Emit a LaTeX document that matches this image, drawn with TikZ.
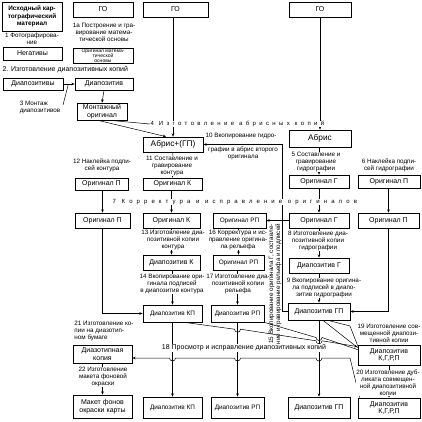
\documentclass[tikz,border=0pt]{standalone}
\usepackage{fontspec}
\setmainfont{Liberation Sans}
\newfontfamily\spacedA[LetterSpace=56]{Liberation Sans}
\newfontfamily\spacedB[LetterSpace=68]{Liberation Sans}
\usetikzlibrary{arrows.meta,calc}
\begin{document}
\begin{tikzpicture}[x=1pt,y=-1pt,
 box/.style={draw,line width=0.75pt,inner sep=0pt,align=center,font=\fontsize{7}{7.8}\selectfont},
 nbox/.style={box,font=\fontsize{6.4}{7}\selectfont},
 lab/.style={inner sep=0.4pt,align=center,font=\fontsize{6.3}{7}\selectfont},
 wlab/.style={lab,fill=white},
 con/.style={line width=0.5pt},
 arr/.style={con,-{Stealth[length=3.2pt,width=2.6pt]}},
]
\useasboundingbox (0,0) rectangle (422,422);
\newcommand\B[6]{\node[box,minimum width=#4pt,minimum height=#5pt] (#1) at (#2,#3) {#6};}
% ---------- boxes ----------
\node[box,minimum width=60pt,minimum height=29pt,font=\fontsize{6.4}{7.6}\selectfont\bfseries] (src) at (32,16.5) {Исходный кар-\\тографический\\материал};
\B{neg}{32.5}{53.5}{59}{13}{Негативы}
\B{dps}{33}{84}{60}{12}{Диапозитивы}
\B{goa}{103}{9.5}{60}{15}{ГО}
\node[box,minimum width=60pt,minimum height=15pt,font=\fontsize{5}{4.9}\selectfont] (omo) at (103,55.5) {Оригинал матема-\\тической\\основы};
\B{dp}{104}{84}{58}{12}{Диапозитив}
\B{mont}{102}{111.5}{50}{17}{Монтажный\\оригинал}
\B{gob}{175.5}{9.5}{65}{15}{ГО}
\B{goc}{320}{9.5}{62}{15}{ГО}
\node[box,minimum width=60pt,minimum height=15pt,font=\fontsize{8.3}{9}\selectfont] (agp) at (173,144.5) {Абрис+(ГП)};
\node[box,minimum width=62pt,minimum height=17pt,font=\fontsize{8.3}{9}\selectfont] (abr) at (320,138.5) {Абрис};
\B{opa}{101.5}{184}{53}{12}{Оригинал П}
\B{oka}{172.5}{184}{59}{12}{Оригинал К}
\B{oga}{319}{181.5}{60}{13}{Оригинал Г}
\B{opra}{389}{181.5}{62}{13}{Оригинал П}
\B{opb}{102.5}{220.5}{55}{15}{Оригинал П}
\B{okb}{171.5}{220.5}{57}{15}{Оригинал К}
\node[nbox,minimum width=53pt,minimum height=15pt] (orpa) at (239.5,220.5) {Оригинал РП};
\B{ogb}{319}{220.5}{60}{15}{Оригинал Г}
\B{oprb}{388.5}{220.5}{61}{15}{Оригинал П}
\B{dk}{171.5}{262.5}{57}{15}{Диапозитив К}
\node[nbox,minimum width=51pt,minimum height=15pt] (orpb) at (238.5,262.5) {Оригинал РП};
\B{dg}{319}{265.5}{60}{15}{Диапозитив Г}
\node[nbox,minimum width=59pt,minimum height=17pt] (dkp) at (172.5,313.5) {Диапозитив КП};
\node[nbox,minimum width=53pt,minimum height=17pt] (drp) at (237.5,313.5) {Диапозитив РП};
\B{dgp}{319}{311.5}{62}{17}{Диапозитив ГП}
\B{kga}{389}{355}{62}{20}{Диапозитив\\К,Г,Р,П}
\B{diaz}{102.5}{354}{59}{18}{Диазотипная\\копия}
\B{maket}{102.5}{406.5}{59}{23}{Макет фонов\\окраски карты}
\node[nbox,minimum width=59pt,minimum height=21pt] (dkpb) at (172.5,407.5) {Диапозитив КП};
\node[nbox,minimum width=53pt,minimum height=21pt] (drpb) at (237.5,407.5) {Диапозитив РП};
\B{dgpb}{319}{407.5}{62}{21}{Диапозитив ГП}
\B{kgb}{389}{408}{62}{20}{Диапозитив\\К,Г,Р,П}
% ---------- connectors ----------
\draw[arr] (dps.east) -- (dp.west);
\coordinate (m3) at (63,105);
\draw[con] (m3) -- ($(dps.east)!0.45!(dp.west)$);
\draw[arr] (dp.south) -- (mont.north);
\draw[arr] ([xshift=-4pt]mont.south) -- ([xshift=-7pt]agp.north);
\draw[arr] (gob.south -| agp.north) -- (agp.north);
\draw[arr] (goc.south) -- (abr.north);
\draw[arr] (dgp.west) -- ++(-5,0) |- (agp.east);
\draw[arr] (abr.south -| oga.north) -- (oga.north);
\draw[arr] (agp.south) -- (oka.north);
\draw[arr] (opa.south -| opb.north) -- (opb.north);
\draw[arr] (oka.south -| okb.north) -- (okb.north);
\draw[arr] (oga.south) -- (ogb.north);
\draw[arr] (opra.south -| oprb.north) -- (oprb.north);
\draw[arr] (ogb.west) -- (orpa.east);
\draw[arr] (okb.south) -- (dk.north);
\draw[arr] (orpa.south -| orpb.north) -- (orpb.north);
\draw[arr] (ogb.south) -- (dg.north);
\draw[arr] (dk.south -| dkp.north) -- (dkp.north);
\draw[arr] (orpb.south -| drp.north) -- (drp.north);
\draw[arr] (dg.south) -- (dgp.north);
\draw[arr] (opb.south) |- (dkp.west);
\draw[arr] (oprb.south) |- (dgp.east);
\draw[arr] (dkp.south) -- (dkpb.north);
\draw[arr] (drp.south) -- (drpb.north);
\draw[arr] (dgp.south) -- (dgpb.north);
\draw[arr] (kga.south) -- (kgb.north);
\draw[arr] (diaz.south) -- (maket.north);
% diagonals to the combined diapositive (step 19)
\draw[arr] ([xshift=12pt]dkp.south) -- (234.5,329.2) arc[start angle=180,end angle=360,radius=3pt]
  -- (316,340.8) arc[start angle=180,end angle=360,radius=3pt] -- ([yshift=-2pt]kga.north west);
\draw[con] (drp.south east) -- (316,337.5) arc[start angle=180,end angle=360,radius=3pt] -- ([yshift=-5pt]kga.north west);
\draw[con] ([xshift=4pt]dgp.south) -- ([yshift=-3pt]kga.north west);
\draw[con] ([xshift=9pt]dgp.south) -- (350,326) -- ([yshift=-1pt]kga.north west);
% step 21: duplicate -> diazo copy, with hops
\coordinate (h21) at (350,358);
\draw[arr] ([xshift=2pt]kgb.north west) -- (h21) -- (322,358) arc[start angle=0,end angle=-180,radius=3pt]
  -- (240.5,358) arc[start angle=0,end angle=-180,radius=3pt]
  -- (175.5,358) arc[start angle=0,end angle=-180,radius=3pt] -- (h21 -| diaz.east);
% ---------- labels ----------
\node[lab] (l1) at (32,39) {1 Фотографирова-\\ние};
\node[lab,anchor=west,font=\fontsize{7}{7.5}\selectfont] (l2) at (2,70) {2. Изготовление диапозитивных копий};
\node[lab,align=left] (l3) at (40,107) {3 Монтаж\\ диапозитивов};
\node[lab] (l1a) at (104,32) {1а Построение и гра-\\вирование матема-\\тической основы};
\node[wlab,font=\spacedA\fontsize{6}{6.6}\selectfont,anchor=west] (l4) at (150,124) {4 Изготовление абрисных копий};
\draw[con] ([xshift=8pt]mont.south) -- (l4.west);
\node[lab,anchor=west] (l10a) at (205,136) {10 Вкопирование гидро-};
\node[lab] (l10b) at (243,153) {графии в абрис второго\\оригинала};
\node[wlab] (l11) at (172,166) {11 Составление и\\гравирование\\контура};
\node[lab] (l12) at (102,165) {12 Наклейка подпи-\\сей контура};
\node[wlab] (l5) at (316,162) {5 Составление и\\гравирование\\гидрографии};
\node[lab] (l6) at (389,165) {6 Наклейка подпи-\\сей гидрографии};
\node[wlab,font=\spacedB\fontsize{6}{6.6}\selectfont,anchor=west] (l7) at (112,202) {7 Корректура и исправление оригиналов};
\node[wlab] (l13) at (173,240) {13 Изготовление диа-\\позитивной копии\\контура};
\node[wlab] (l16) at (238,240) {16 Корректура и ис-\\правление оригина-\\ла рельефа};
\node[wlab] (l8) at (318,241) {8 Изготовление диа-\\позитивной копии\\гидрографии};
\node[wlab] (l14) at (172,284) {14 Вкопирование ори-\\гинала подписей\\в диапозитив контура};
\node[wlab] (l17) at (238,284) {17 Изготовление диа-\\позитивной копии\\рельефа};
\node[wlab] (l9) at (324,288) {9 Вкопирование оригина-\\ла подписей в диапо-\\зитив гидрографии};
\node[lab,rotate=90] (l15) at (275,284) {15 Вкопирование оригинала Г, составле-\\ние и гравирование рельефа и подписей};
\node[lab] (l19) at (389,333) {19 Изготовление сов-\\мещенной диапози-\\тивной копии};
\node[wlab,font=\fontsize{7}{7.5}\selectfont] (l18) at (244,348) {18 Просмотр и исправление диапозитивных копий};
\node[wlab] (l20) at (388,383) {20 Изготовление дуб-\\ликата совмещен-\\ной диапозитивной\\копии};
\node[lab,align=left] (l21) at (104,331) {21 Изготовление ко-\\пии на диазотип-\\ном бумаге};
\node[wlab] (l22) at (103,377) {22 Изготовление\\макета фоновой\\окраски};
\end{tikzpicture}
\end{document}
